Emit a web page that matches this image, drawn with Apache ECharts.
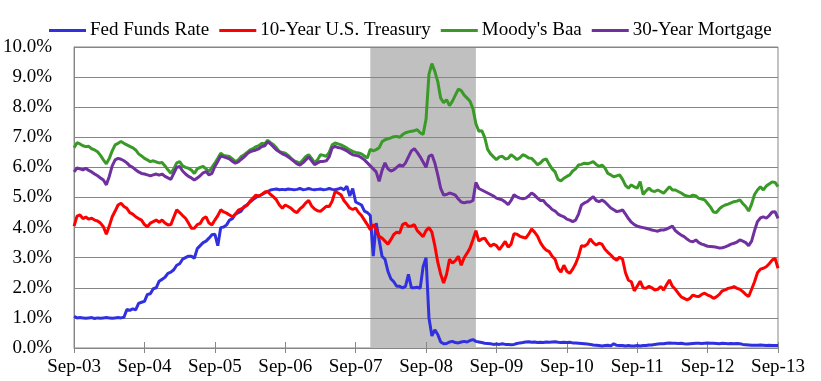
<!DOCTYPE html>
<html>
<head>
<meta charset="utf-8">
<script src="https://cdn.jsdelivr.net/npm/echarts@6/dist/echarts.min.js"></script>
<style>
  html, body { margin: 0; padding: 0; background: #ffffff; }
  #chart { width: 821px; height: 381px; }
</style>
</head>
<body>
<div id="chart"></div>
<script>
// x positions are months after Sep-03, one reading every half month
const tickLabels = ['Sep-03','Sep-04','Sep-05','Sep-06','Sep-07','Sep-08','Sep-09','Sep-10','Sep-11','Sep-12','Sep-13'];
const seriesNames = ['Fed Funds Rate', '10-Year U.S. Treasury', "Moody's Baa", '30-Year Mortgage'];
const recession = [50.5, 68.5];

const fedFunds = [
  1.05,1.00,1.01,1.00,0.99,1.00,1.01,0.98,1.00,0.99,1.00,1.01,1.00,0.99,1.00,1.01,1.00,1.02,1.28,1.25,1.30,1.27,1.48,1.52,
  1.55,1.78,1.80,1.97,2.00,2.22,2.28,2.35,2.48,2.52,2.60,2.75,2.80,2.95,3.00,3.05,3.05,2.98,3.30,3.40,3.50,3.55,3.65,3.76,
  3.78,3.40,4.00,4.02,4.09,4.25,4.30,4.45,4.50,4.55,4.70,4.76,4.85,4.93,5.00,5.05,5.10,5.15,5.20,5.25,5.27,5.28,5.26,5.27,
  5.26,5.28,5.27,5.26,5.27,5.30,5.26,5.27,5.30,5.27,5.26,5.27,5.28,5.26,5.27,5.30,5.27,5.26,5.28,5.32,5.25,5.38,5.05,5.30,
  4.85,4.80,4.75,4.55,4.50,4.40,3.05,4.15,3.60,3.05,2.95,2.55,2.30,2.20,2.05,2.05,2.00,2.05,2.45,2.00,2.00,2.02,1.98,2.70,
  3.00,1.00,0.40,0.60,0.45,0.20,0.14,0.15,0.20,0.22,0.18,0.17,0.20,0.22,0.20,0.25,0.28,0.22,0.20,0.18,0.16,0.15,0.14,0.12,
  0.13,0.12,0.14,0.12,0.12,0.11,0.12,0.15,0.17,0.18,0.20,0.21,0.19,0.20,0.18,0.19,0.18,0.20,0.19,0.20,0.21,0.19,0.18,0.19,
  0.18,0.19,0.17,0.17,0.16,0.15,0.14,0.13,0.12,0.10,0.09,0.08,0.07,0.08,0.09,0.07,0.14,0.09,0.08,0.08,0.07,0.08,0.07,0.07,
  0.08,0.07,0.08,0.08,0.10,0.10,0.12,0.13,0.14,0.14,0.16,0.17,0.16,0.16,0.15,0.16,0.14,0.13,0.14,0.15,0.16,0.16,0.15,0.16,
  0.17,0.16,0.16,0.15,0.14,0.16,0.15,0.14,0.15,0.14,0.15,0.14,0.12,0.11,0.10,0.09,0.09,0.09,0.10,0.09,0.08,0.09,0.08,0.08,
  0.08
];

const tenYear = [
  4.05,4.38,4.42,4.30,4.35,4.28,4.31,4.25,4.22,4.15,4.03,3.78,4.05,4.36,4.55,4.75,4.81,4.70,4.64,4.50,4.45,4.36,4.30,4.25,
  4.10,4.03,4.15,4.20,4.25,4.18,4.25,4.15,4.09,4.10,4.35,4.59,4.50,4.40,4.31,4.15,3.98,3.98,4.10,4.14,4.30,4.36,4.15,4.09,
  4.25,4.40,4.59,4.52,4.48,4.42,4.36,4.45,4.58,4.62,4.68,4.74,4.88,4.98,5.08,5.05,5.10,5.18,5.20,5.10,5.02,4.92,4.75,4.64,
  4.75,4.70,4.64,4.55,4.50,4.62,4.70,4.82,4.90,4.72,4.62,4.56,4.54,4.62,4.71,4.70,4.88,5.20,5.15,5.09,4.90,4.78,4.65,4.60,
  4.65,4.50,4.40,4.25,4.10,3.93,4.10,3.95,3.71,3.65,3.55,3.45,3.60,3.77,3.85,3.82,4.10,4.15,4.04,4.05,4.10,3.90,3.80,3.70,
  3.90,4.00,3.85,3.40,2.85,2.45,2.16,2.45,2.95,2.82,2.90,3.05,2.75,3.00,3.15,3.32,3.60,3.90,3.55,3.62,3.65,3.50,3.38,3.45,
  3.40,3.27,3.40,3.54,3.35,3.45,3.80,3.78,3.71,3.68,3.65,3.78,3.95,3.85,3.72,3.50,3.35,3.25,3.20,3.05,2.95,2.65,2.52,2.75,
  2.55,2.48,2.62,2.80,3.05,3.40,3.38,3.45,3.62,3.50,3.42,3.48,3.45,3.28,3.18,3.09,2.98,2.92,3.02,2.95,2.50,2.25,2.20,1.90,
  2.05,2.22,2.00,1.98,2.05,2.00,1.93,1.95,2.04,1.93,2.10,2.26,2.05,1.95,1.82,1.70,1.65,1.60,1.65,1.76,1.72,1.71,1.78,1.82,
  1.76,1.72,1.65,1.70,1.78,1.90,1.93,1.98,2.00,2.04,1.98,1.95,1.87,1.78,1.71,1.95,2.20,2.50,2.62,2.65,2.70,2.80,2.92,2.98,
  2.65
];

const moodysBaa = [
  6.65,6.82,6.78,6.72,6.69,6.70,6.62,6.58,6.52,6.40,6.25,6.12,6.30,6.55,6.75,6.80,6.86,6.80,6.75,6.70,6.65,6.58,6.45,6.38,
  6.30,6.25,6.19,6.22,6.18,6.15,6.16,6.05,5.92,5.80,5.95,6.15,6.19,6.05,6.00,5.97,5.91,5.80,5.95,6.00,6.03,5.95,5.86,6.00,
  6.14,6.30,6.47,6.40,6.38,6.36,6.28,6.19,6.25,6.36,6.42,6.50,6.58,6.62,6.69,6.72,6.80,6.78,6.90,6.82,6.75,6.65,6.52,6.50,
  6.47,6.40,6.30,6.22,6.18,6.14,6.25,6.36,6.42,6.30,6.15,6.25,6.42,6.40,6.37,6.50,6.75,6.81,6.78,6.75,6.70,6.64,6.58,6.53,
  6.50,6.48,6.45,6.38,6.31,6.60,6.55,6.59,6.65,6.85,6.92,6.95,6.98,7.02,7.03,7.00,7.09,7.15,7.18,7.20,7.22,7.25,7.15,7.09,
  7.60,9.10,9.45,9.19,8.85,8.30,8.15,8.25,8.05,8.20,8.40,8.60,8.55,8.40,8.30,8.20,7.95,7.45,7.20,7.22,7.00,6.60,6.45,6.35,
  6.26,6.35,6.37,6.28,6.30,6.42,6.35,6.26,6.32,6.42,6.38,6.31,6.30,6.20,6.09,6.15,6.25,6.28,6.10,5.95,5.85,5.60,5.55,5.64,
  5.70,5.75,5.88,5.95,6.08,6.10,6.14,6.12,6.15,6.19,6.10,6.03,6.08,5.98,5.80,5.75,5.69,5.72,5.75,5.60,5.40,5.31,5.42,5.35,
  5.31,5.53,5.10,5.22,5.31,5.22,5.20,5.25,5.20,5.14,5.25,5.36,5.25,5.25,5.20,5.15,5.08,5.05,5.03,5.08,5.05,4.97,4.95,4.92,
  4.80,4.68,4.52,4.50,4.62,4.70,4.75,4.78,4.82,4.86,4.88,4.92,4.80,4.70,4.55,4.78,5.10,5.25,5.36,5.25,5.38,5.45,5.52,5.50,
  5.36
];

const mortgage30 = [
  5.85,5.98,5.95,5.92,5.97,5.90,5.85,5.78,5.72,5.65,5.58,5.42,5.70,6.05,6.25,6.30,6.27,6.22,6.15,6.05,6.00,5.92,5.85,5.80,
  5.78,5.75,5.72,5.75,5.78,5.74,5.78,5.70,5.65,5.60,5.80,6.00,6.03,5.88,5.78,5.70,5.65,5.58,5.65,5.72,5.82,5.86,5.75,5.80,
  6.03,6.20,6.38,6.35,6.32,6.28,6.20,6.14,6.18,6.27,6.35,6.45,6.52,6.55,6.58,6.62,6.69,6.72,6.85,6.78,6.68,6.58,6.52,6.45,
  6.41,6.35,6.28,6.20,6.12,6.08,6.15,6.25,6.35,6.22,6.09,6.15,6.20,6.20,6.22,6.35,6.65,6.70,6.66,6.64,6.60,6.55,6.48,6.42,
  6.40,6.38,6.32,6.25,6.15,6.05,5.95,5.85,5.54,5.90,6.15,5.95,5.88,5.92,6.00,6.08,6.04,6.15,6.35,6.55,6.62,6.50,6.35,6.18,
  6.00,6.37,6.42,6.15,5.75,5.30,5.08,5.10,5.15,5.12,5.08,4.95,4.85,4.82,4.85,4.85,4.90,5.50,5.30,5.25,5.20,5.15,5.10,5.05,
  4.98,4.95,4.92,4.85,4.76,4.90,5.09,5.02,4.98,4.96,4.98,5.05,5.15,5.08,4.98,4.90,4.90,4.78,4.70,4.60,4.55,4.45,4.40,4.36,
  4.28,4.25,4.20,4.25,4.45,4.75,4.82,4.86,4.95,5.03,4.90,4.86,4.92,4.85,4.75,4.65,4.59,4.53,4.55,4.59,4.45,4.30,4.18,4.10,
  4.05,4.02,4.00,3.98,3.95,3.92,3.90,3.88,3.92,3.92,3.95,4.00,4.05,3.90,3.82,3.75,3.70,3.62,3.55,3.53,3.59,3.50,3.45,3.42,
  3.38,3.37,3.36,3.35,3.32,3.33,3.36,3.40,3.45,3.48,3.52,3.59,3.55,3.50,3.40,3.55,3.90,4.20,4.32,4.36,4.31,4.40,4.52,4.53,
  4.31
];

const colors = ['#3030E0', '#FF0000', '#3A9A28', '#7030A0'];
const FONT = "'Liberation Serif', 'Times New Roman', serif";
const GRID_COLOR = '#868686';

function toPairs(arr) { return arr.map(function (v, i) { return [i * 0.5, v]; }); }

const chart = echarts.init(document.getElementById('chart'), null, { renderer: 'canvas' });

const allSeries = [fedFunds, tenYear, moodysBaa, mortgage30].map(function (arr, k) {
  const s = {
    name: seriesNames[k],
    type: 'line',
    data: toPairs(arr),
    showSymbol: false,
    symbol: 'none',
    smooth: false,
    lineStyle: { color: colors[k], width: 3 },
    itemStyle: { color: colors[k] },
    z: 3 + k
  };
  if (k === 0) {
    s.markArea = {
      silent: true,
      z: 1,
      itemStyle: { color: '#C0C0C0', opacity: 1 },
      label: { show: false },
      data: [[{ xAxis: recession[0] }, { xAxis: recession[1] }]]
    };
  }
  return s;
});

chart.setOption({
  animation: false,
  backgroundColor: '#ffffff',
  legend: {
    data: seriesNames.map(function (n, k) { return { name: n, icon: 'rect', itemStyle: { color: colors[k] } }; }),
    left: 44,
    top: 16,
    itemWidth: 37,
    itemHeight: 3,
    itemGap: 10,
    textStyle: { fontSize: 19, fontFamily: FONT, color: '#000', padding: [0, 0, 0, -1] }
  },
  grid: {
    left: 72, right: 43, top: 47, bottom: 33,
    show: true, borderColor: GRID_COLOR, borderWidth: 1, backgroundColor: 'transparent'
  },
  xAxis: [{
    type: 'value', min: 0, max: 120, interval: 12, z: 1.5,
    axisLine: { show: true, lineStyle: { color: GRID_COLOR, width: 1 } },
    axisTick: { show: true, length: 5, lineStyle: { color: GRID_COLOR } },
    splitLine: { show: false },
    axisLabel: {
      margin: 10, fontSize: 19, fontFamily: FONT, color: '#000',
      formatter: function (v) { return tickLabels[Math.round(v / 12)]; }
    }
  }, {
    type: 'value', min: 0, max: 120, interval: 12, position: 'bottom', z: 1.5,
    axisLine: { show: false },
    axisTick: { show: true, inside: true, length: 6, lineStyle: { color: GRID_COLOR } },
    splitLine: { show: false },
    axisLabel: { show: false }
  }],
  yAxis: {
    type: 'value', min: 0, max: 10, interval: 1, z: 1.5,
    axisLine: { show: true, lineStyle: { color: GRID_COLOR, width: 1 } },
    axisTick: { show: false },
    splitLine: { show: true, lineStyle: { color: GRID_COLOR, width: 1 } },
    axisLabel: {
      margin: 22, fontSize: 19, fontFamily: FONT, color: '#000',
      formatter: function (v) { return v.toFixed(1) + '%'; }
    }
  },
  series: allSeries
});
</script>
</body>
</html>
